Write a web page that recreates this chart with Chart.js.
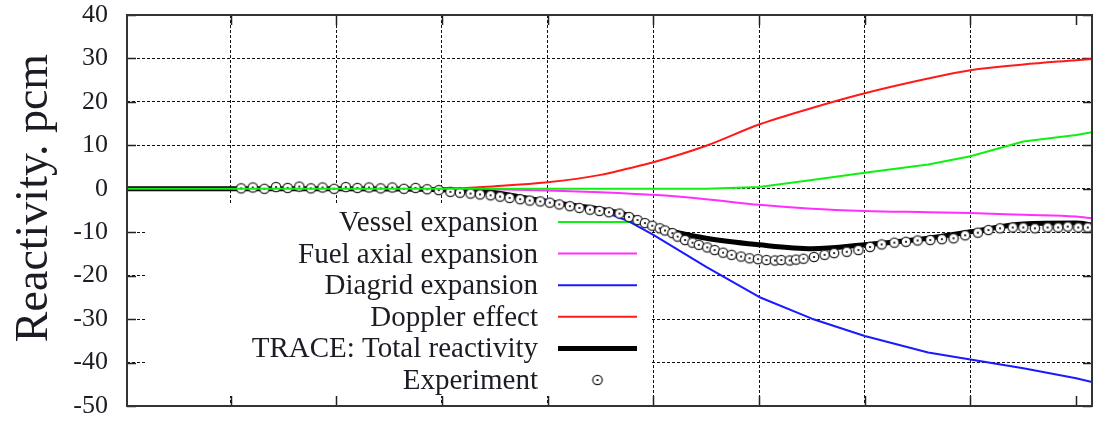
<!DOCTYPE html>
<html>
<head>
<meta charset="utf-8">
<script src="https://cdn.jsdelivr.net/npm/chart.js@4/dist/chart.umd.min.js"></script>
<style>
    html, body { margin: 0; padding: 0; background: #fff; }
    canvas { display: block; }
</style>
</head>
<body>
<canvas id="chart" width="1098" height="423"></canvas>
<script>
// Model curves share one time grid
const times = [2, 100, 200, 300, 350, 400, 450, 475, 500, 550, 600, 650, 700, 760, 800, 850, 900, 915];
const vessel = [0, 0, 0, 0, 0, 0, 0, 0, 0, 0, 0.4, 2.0, 3.7, 5.6, 7.5, 10.9, 12.4, 13.0];
const fuelAxial = [0, 0, 0, 0, -0.1, -0.4, -0.8, -1.1, -1.4, -2.4, -3.7, -4.6, -5.1, -5.4, -5.6, -6.0, -6.4, -6.8];
const diagrid = [0, 0, 0, -0.3, -1.0, -2.5, -5.0, -7.3, -10.6, -18.0, -24.9, -29.9, -33.9, -37.7, -39.3, -41.3, -43.6, -44.5];
const doppler = [0, 0, 0, 0, 0.6, 1.5, 3.2, 4.6, 6.1, 9.9, 14.8, 18.6, 22.0, 25.4, 27.3, 28.6, 29.6, 29.9];
const traceTotal = [0, 0, 0, -0.2, -0.9, -3.0, -4.7, -6.0, -8.6, -11.4, -12.9, -13.8, -12.9, -11.4, -9.9, -8.1, -7.9, -8.3];

// Experiment
const expTimes = [110, 121, 132, 143, 154, 165, 176, 187, 198, 209, 220, 231, 242, 253, 264, 275, 286, 297,
    308, 317, 327, 336, 346, 355, 364, 374, 383, 393, 402, 411, 421, 430, 440, 449, 458, 468, 477,
    485, 492, 499, 506, 511, 518, 523, 530, 537, 543, 551, 558, 566, 574, 583, 591, 599, 607, 615, 621, 629, 635,
    642, 652, 662, 671, 683, 694, 705, 716, 728, 739, 750, 762, 773, 784, 795, 807, 817, 828, 840, 850, 861, 873, 883, 892, 902, 911];
const expValues = [0.1, 0.3, 0.0, 0.4, 0.2, 0.5, 0.1, 0.3, 0.0, 0.4, 0.2, 0.3, 0.1, 0.3, 0.0, 0.2, -0.1, -0.3,
    -0.7, -0.9, -1.1, -1.3, -1.5, -1.8, -2.1, -2.4, -2.7, -2.9, -3.2, -3.6, -4.0, -4.4, -4.8, -5.1, -5.4, -5.7, -6.5,
    -7.2, -7.9, -8.5, -9.1, -9.6, -10.2, -11.0, -11.8, -12.4, -12.9, -13.5, -14.1, -14.7, -15.2, -15.6, -16.0, -16.2, -16.4, -16.5, -16.4, -16.5, -16.3,
    -16.1, -15.7, -15.2, -14.8, -14.5, -14.1, -13.4, -12.8, -12.4, -12.2, -11.9, -11.8, -11.6, -11.4, -10.7, -10.1, -9.5, -9.1, -8.9, -8.9, -9.1, -8.9, -8.9, -8.7, -8.9, -8.9];

const yTicks = [-50, -40, -30, -20, -10, 0, 10, 20, 30, 40];
const legendLabels = ['Vessel expansion', 'Fuel axial expansion', 'Diagrid expansion', 'Doppler effect', 'TRACE: Total reactivity', 'Experiment'];

const SERIF = '"Liberation Serif", "DejaVu Serif", serif';
const TEXT = '#1c1c24';

function pts(xs, ys) {
    return xs.map((x, i) => ({ x: x, y: ys[i] }));
}

// circle-with-dot marker
function makeMarker() {
    const c = document.createElement('canvas');
    c.width = 14;
    c.height = 14;
    const g = c.getContext('2d');
    g.beginPath();
    g.arc(7, 7, 4.7, 0, Math.PI * 2);
    g.fillStyle = '#fff';
    g.fill();
    g.lineWidth = 1.3;
    g.strokeStyle = '#222';
    g.stroke();
    g.beginPath();
    g.arc(7, 7, 1.1, 0, Math.PI * 2);
    g.fillStyle = '#000';
    g.fill();
    return c;
}
const marker = makeMarker();

function lineSet(label, data, color, width, order, smooth) {
    return {
        label: label,
        data: pts(times, data),
        borderColor: color,
        borderWidth: width,
        pointRadius: 0,
        tension: smooth ? 0.4 : 0,
        cubicInterpolationMode: smooth ? 'monotone' : 'default',
        borderJoinStyle: 'round',
        order: order
    };
}

const datasets = [
    lineSet(legendLabels[0], vessel, '#10f010', 2, 0, false),
    lineSet(legendLabels[1], fuelAxial, '#ff30ff', 2, 5, true),
    lineSet(legendLabels[2], diagrid, '#1a1aff', 2, 4, false),
    lineSet(legendLabels[3], doppler, '#ff1a1a', 2, 3, true),
    lineSet(legendLabels[4], traceTotal, '#000', 5, 2, true),
    {
        label: legendLabels[5],
        data: pts(expTimes, expValues),
        showLine: false,
        pointStyle: marker,
        pointRadius: 5,
        order: 1
    }
];

// gnuplot-like frame, inward ticks, opaque key and y title
const gnuplotLook = {
    id: 'gnuplotLook',
    beforeDatasetsDraw(chart) {
        const { ctx, chartArea: a, scales: { x, y } } = chart;
        ctx.save();

        // opaque key box hides the grid
        const box = { left: 145, top: 205, right: 652, bottom: 396 };
        ctx.fillStyle = '#fff';
        ctx.fillRect(box.left, box.top, box.right - box.left, box.bottom - box.top);

        // inward tick marks on all sides
        ctx.strokeStyle = '#222';
        ctx.lineWidth = 1.5;
        ctx.beginPath();
        for (let t = 100; t <= 900; t += 100) {
            const px = Math.round(x.getPixelForValue(t)) + 0.5;
            ctx.moveTo(px, a.bottom); ctx.lineTo(px, a.bottom - 10);
            ctx.moveTo(px, a.top); ctx.lineTo(px, a.top + 10);
        }
        yTicks.forEach(v => {
            const py = Math.round(y.getPixelForValue(v)) + 0.5;
            ctx.moveTo(a.left, py); ctx.lineTo(a.left + 9, py);
            ctx.moveTo(a.right, py); ctx.lineTo(a.right - 9, py);
        });
        ctx.stroke();

        // key entries
        const textRight = 538, sampleL = 558, sampleR = 637;
        ctx.font = '29px ' + SERIF;
        ctx.textAlign = 'right';
        ctx.textBaseline = 'alphabetic';
        ctx.fillStyle = TEXT;
        chart.data.datasets.forEach((ds, i) => {
            const rowY = 222 + i * 31.6;
            ctx.fillText(ds.label, textRight, rowY + 9);
            if (ds.showLine === false) {
                ctx.drawImage(marker, (sampleL + sampleR) / 2 - 7, rowY - 7);
            } else {
                ctx.strokeStyle = ds.borderColor;
                ctx.lineWidth = ds.borderWidth;
                ctx.beginPath();
                ctx.moveTo(sampleL, rowY);
                ctx.lineTo(sampleR, rowY);
                ctx.stroke();
            }
        });
        ctx.restore();
    },
    afterDatasetsDraw(chart) {
        const { ctx, chartArea: a } = chart;
        ctx.save();
        ctx.strokeStyle = '#333';
        ctx.lineWidth = 2;
        ctx.strokeRect(a.left, a.top, a.right - a.left, a.bottom - a.top);
        ctx.restore();
    },
    afterDraw(chart) {
        const ctx = chart.ctx;
        ctx.save();
        ctx.translate(47, 198);
        ctx.rotate(-Math.PI / 2);
        ctx.font = '46px ' + SERIF;
        ctx.fillStyle = TEXT;
        ctx.textAlign = 'center';
        ctx.textBaseline = 'alphabetic';
        ctx.fillText('Reactivity. pcm', 0, 0);
        ctx.restore();
    }
};

new Chart(document.getElementById('chart').getContext('2d'), {
    type: 'line',
    data: { datasets: datasets },
    options: {
        responsive: false,
        animation: false,
        devicePixelRatio: 1,
        layout: { padding: { left: 0, top: 15, right: 1, bottom: 17 } },
        plugins: {
            legend: { display: false },
            tooltip: { enabled: false }
        },
        scales: {
            x: {
                type: 'linear',
                min: 2,
                max: 915,
                ticks: { display: false, stepSize: 100 },
                grid: { color: '#111', lineWidth: 1, drawTicks: false },
                border: { display: false, dash: [3, 2] },
                afterFit(scale) { scale.height = 0; scale.paddingLeft = 0; scale.paddingRight = 0; }
            },
            y: {
                min: -50,
                max: 40,
                ticks: {
                    stepSize: 10,
                    padding: 19,
                    color: TEXT,
                    font: { family: SERIF, size: 26, lineHeight: 1 }
                },
                grid: { color: '#111', lineWidth: 1, drawTicks: false },
                border: { display: false, dash: [3, 2] },
                afterFit(scale) { scale.width = 127; scale.paddingTop = 0; scale.paddingBottom = 0; }
            }
        }
    },
    plugins: [gnuplotLook]
});
</script>
</body>
</html>
